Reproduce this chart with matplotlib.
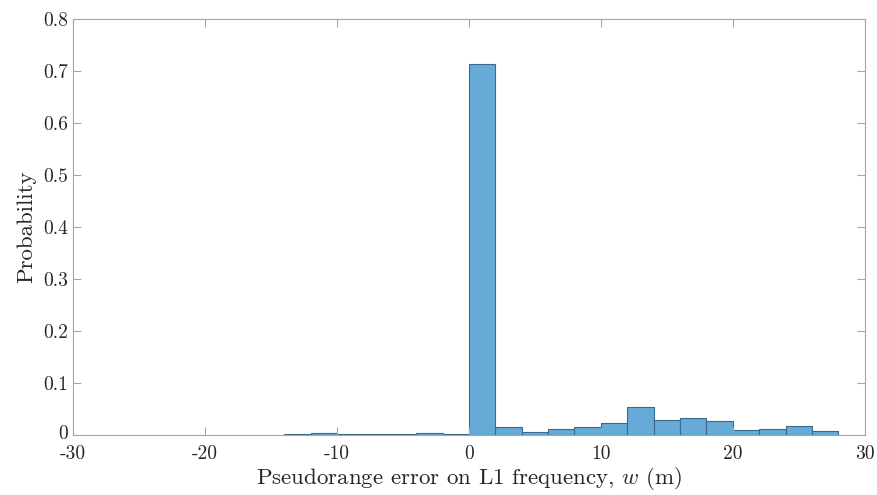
import matplotlib
matplotlib.use("Agg")
import matplotlib.pyplot as plt
import matplotlib.transforms as mtransforms

plt.rcParams['font.family'] = 'cmr10'
plt.rcParams['mathtext.fontset'] = 'cm'
plt.rcParams['axes.unicode_minus'] = False

# histogram bins (edges) and probability per bin
bin_edges = [-14, -12, -10, -8, -6, -4, -2, 0, 2, 4, 6, 8, 10, 12, 14,
             16, 18, 20, 22, 24, 26, 28]
probs = [0.001, 0.003, 0.001, 0.001, 0.001, 0.003, 0.002, 0.714,
         0.0148, 0.0052, 0.011, 0.0145, 0.0225, 0.0545, 0.029, 0.032,
         0.026, 0.010, 0.0125, 0.017, 0.007]

x_ticks = [-30, -20, -10, 0, 10, 20, 30]
y_ticks = [0, 0.1, 0.2, 0.3, 0.4, 0.5, 0.6, 0.7, 0.8]

fig = plt.figure(figsize=(8.78, 4.95), dpi=100)
ax = fig.add_axes([0.0831, 0.1212, 0.9019, 0.8404])

ax.hist(bin_edges[:-1], bins=bin_edges, weights=probs,
        color='#66aad7', edgecolor='#3b6a8c', linewidth=0.8)

ax.set_xlim(-30, 30)
ax.set_ylim(0, 0.8)
ax.set_xticks(x_ticks)
ax.set_xticklabels([str(t) for t in x_ticks])
ax.set_yticks(y_ticks)
ax.set_yticklabels(['0' if t == 0 else f'{t:g}' for t in y_ticks])

for s in ax.spines.values():
    s.set_color('#a6a6a6')
    s.set_linewidth(0.8)
ax.tick_params(direction='in', length=6, width=0.8, color='#a6a6a6',
               labelsize=14, labelcolor='#262626', top=True, right=True)
ax.tick_params(axis='x', pad=7)

# nudge the "0" up a couple of pixels so it clears "-30"
lbl0 = ax.get_yticklabels()[0]
lbl0.set_transform(lbl0.get_transform() +
                   mtransforms.ScaledTranslation(0, 2 / 72, fig.dpi_scale_trans))

ax.set_xlabel(r'Pseudorange error on L1 frequency, $w$ (m)', fontsize=16.5,
              color='#262626', labelpad=2)
ax.set_ylabel('Probability', fontsize=16.5, color='#262626', labelpad=5)

fig.savefig('out.png', dpi=100)
